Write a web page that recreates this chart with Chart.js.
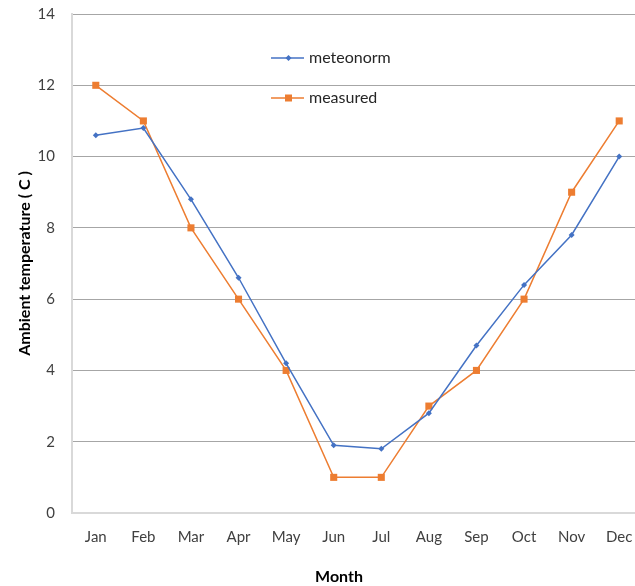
<!DOCTYPE html>
<html>
<head>
<meta charset="utf-8">
<script src="https://cdn.jsdelivr.net/npm/chart.js@4"></script>
<style>
  html, body { margin: 0; padding: 0; overflow: hidden; background: #fff; }
  #wrap { width: 650px; height: 586px; }
</style>
</head>
<body>
<div id="wrap"><canvas id="tempChart"></canvas></div>
<script>
const months = ["Jan", "Feb", "Mar", "Apr", "May", "Jun", "Jul", "Aug", "Sep", "Oct", "Nov", "Dec"];
const meteonorm = [10.6, 10.8, 8.8, 6.6, 4.2, 1.9, 1.8, 2.8, 4.7, 6.4, 7.8, 10.0];
const measured = [12, 11, 8, 6, 4, 1, 1, 3, 4, 6, 9, 11];
const yTicks = [0, 2, 4, 6, 8, 10, 12, 14];

const FONT = "Lato, 'Open Sans', sans-serif";
const BLUE = "#4472C4";
const ORANGE = "#ED7D31";

// legend sits inside the plot, drawn by hand
const insideLegend = {
  id: "insideLegend",
  afterDraw(chart) {
    const ctx = chart.ctx;
    const rows = [58, 98];
    ctx.save();
    chart.data.datasets.forEach((ds, i) => {
      const y = rows[i];
      ctx.strokeStyle = ds.borderColor;
      ctx.lineWidth = 1.5;
      ctx.beginPath();
      ctx.moveTo(271, y);
      ctx.lineTo(304, y);
      ctx.stroke();
      ctx.fillStyle = ds.backgroundColor;
      ctx.beginPath();
      if (ds.pointStyle === "rect") {
        ctx.rect(285, y - 3.5, 7, 7);
      } else {
        ctx.moveTo(288.5, y - 3);
        ctx.lineTo(291.5, y);
        ctx.lineTo(288.5, y + 3);
        ctx.lineTo(285.5, y);
        ctx.closePath();
      }
      ctx.fill();
      ctx.fillStyle = "#262626";
      ctx.font = "16px " + FONT;
      ctx.textBaseline = "middle";
      ctx.textAlign = "left";
      ctx.fillText(ds.label, 309, y);
    });
    // x axis title, centred like the original
    ctx.font = "bold 16px " + FONT;
    ctx.textAlign = "center";
    ctx.fillStyle = "#000";
    ctx.fillText("Month", 339, 577);
    ctx.restore();
  }
};

new Chart(document.getElementById("tempChart"), {
  type: "line",
  data: {
    labels: months,
    datasets: [
      {
        label: "meteonorm",
        data: meteonorm,
        borderColor: BLUE,
        backgroundColor: BLUE,
        borderWidth: 1.5,
        pointStyle: "rectRot",
        pointRadius: 3,
        pointBorderWidth: 0,
        tension: 0,
      },
      {
        label: "measured",
        data: measured,
        borderColor: ORANGE,
        backgroundColor: ORANGE,
        borderWidth: 1.5,
        pointStyle: "rect",
        pointRadius: 5,
        pointBorderWidth: 0,
        tension: 0,
      },
    ],
  },
  options: {
    responsive: true,
    maintainAspectRatio: false,
    animation: false,
    layout: { padding: { top: 14, right: 7, left: 0, bottom: 0 } },
    plugins: {
      legend: { display: false },
      tooltip: { enabled: false },
    },
    scales: {
      x: {
        offset: true,
        grid: { display: false, drawTicks: false },
        border: { color: "#d9d9d9", width: 2 },
        ticks: { color: "#404040", font: { family: FONT, size: 15 }, padding: 15, maxRotation: 0 },
        afterFit: (s) => { s.height = 73; s.paddingLeft = 0; s.paddingRight = 0; },
      },
      y: {
        min: 0,
        max: 14,
        afterBuildTicks: (s) => { s.ticks = yTicks.map(v => ({ value: v })); },
        grid: { color: "#a6a6a6", lineWidth: 1, drawTicks: false },
        border: { color: "#d9d9d9", width: 2 },
        ticks: { color: "#404040", font: { family: FONT, size: 15 }, padding: 17 },
        title: {
          display: true,
          text: "Ambient temperature ( C )",
          color: "#000",
          font: { family: FONT, size: 16, weight: "bold" },
          padding: { top: 15, bottom: 0 },
        },
        afterFit: (s) => { s.width = 72; s.paddingTop = 0; s.paddingBottom = 0; },
      },
    },
  },
  plugins: [insideLegend],
});
</script>
</body>
</html>
